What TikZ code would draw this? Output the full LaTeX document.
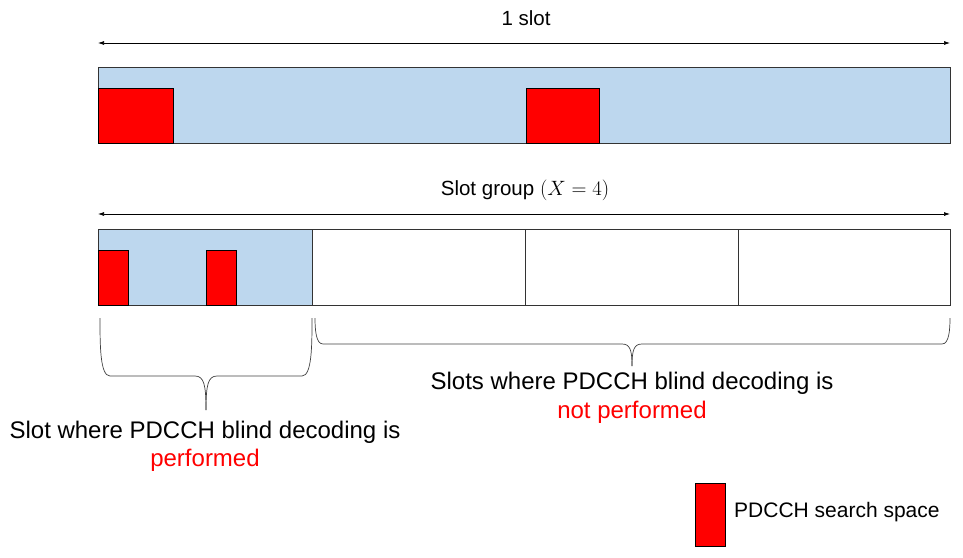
\documentclass[tikz,border=0pt]{standalone}
\usepackage{fontspec}
\setmainfont{Liberation Sans}
\usetikzlibrary{arrows.meta}
\definecolor{lb}{RGB}{189,215,238}
\begin{document}
\begin{tikzpicture}[x=1pt,y=-1pt,
  bar/.style={draw=black!80,line width=0.8pt},
  ss/.style={fill=red,draw=black,line width=0.6pt},
  dim/.style={{Latex[length=6pt,width=4pt]}-{Latex[length=6pt,width=4pt]},line width=0.7pt},
  lbl/.style={font=\fontsize{24}{28}\selectfont},
  tl/.style={font=\fontsize{20.5}{24}\selectfont},
  br/.style={draw=black!75,line width=0.7pt}]
\useasboundingbox (0,0) rectangle (963,557);
% top
\coordinate (a1) at (98,43); \coordinate (a2) at (950,43);
\draw[dim] (a1) -- (a2);
\node[tl] (t1) at (526,18) {1 slot};
\filldraw[fill=lb,bar] (98,67) rectangle (950,143);
\node[ss,minimum width=75pt,minimum height=55pt,inner sep=0,anchor=north west] (r1) at (98,88) {};
\node[ss,minimum width=73pt,minimum height=55pt,inner sep=0,anchor=north west] (r2) at (526,88) {};
% second
\coordinate (b1) at (98,214); \coordinate (b2) at (950,214);
\draw[dim] (b1) -- (b2);
\node[tl] (t2) at (525,190) {Slot group $(X=4)$};
\fill[lb] (98,229) rectangle (312,305);
\draw[bar] (98,229) rectangle (950,305);
\draw[bar] (312,229) -- (312,305) (525,229) -- (525,305) (738,229) -- (738,305);
\node[ss,minimum width=30pt,minimum height=55pt,inner sep=0,anchor=north west] (r3) at (98,250) {};
\node[ss,minimum width=30pt,minimum height=55pt,inner sep=0,anchor=north west] (r4) at (206,250) {};
% braces
\draw[br] (100,318) .. controls (100,345) and (100,376) .. (110,376) -- (195,376)
  .. controls (204,376) and (206,385) .. (206,410);
\draw[br] (312,318) .. controls (312,345) and (312,376) .. (302,376) -- (217,376)
  .. controls (208,376) and (206,385) .. (206,410);
\draw[br] (315,318) .. controls (315,330) and (316,344) .. (323,344) -- (622,344)
  .. controls (630,344) and (632,350) .. (632,366);
\draw[br] (950,318) .. controls (950,330) and (949,344) .. (942,344) -- (642,344)
  .. controls (634,344) and (632,350) .. (632,366);
% texts
\node[lbl] (s1) at (632,383) {Slots where PDCCH blind decoding is};
\node[lbl,text=red] (s2) at (632,412) {not performed};
\node[lbl] (s3) at (205,432) {Slot where PDCCH blind decoding is};
\node[lbl,text=red] (s4) at (205,460) {performed};
% legend
\node[ss,minimum width=30pt,minimum height=63pt,inner sep=0,anchor=north west] (lg) at (695,483) {};
\node[font=\fontsize{21}{24}\selectfont,anchor=west,inner sep=0] (lt) at (734,512) {PDCCH search space};
\end{tikzpicture}
\end{document}
